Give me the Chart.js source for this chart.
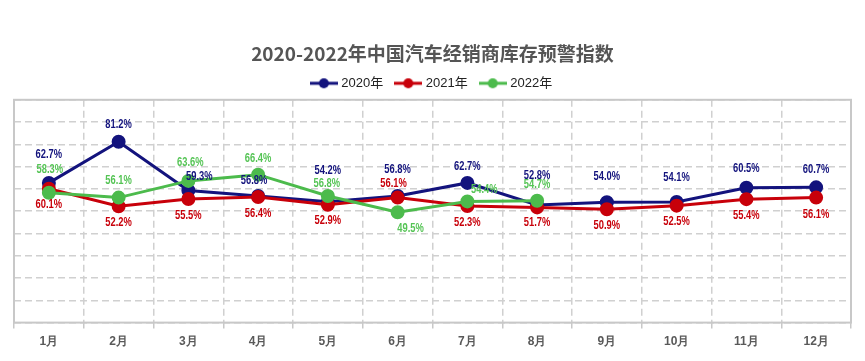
<!DOCTYPE html>
<html><head><meta charset="utf-8">
<script src="https://cdn.jsdelivr.net/npm/chart.js@4.4.0/dist/chart.umd.min.js"></script>
<style>html,body{margin:0;padding:0;background:#fff;}#wrap{width:865px;height:361px;}</style>
</head><body><div id="wrap"><canvas id="c" width="865" height="361"></canvas></div>
<script>
const months = ['1月','2月','3月','4月','5月','6月','7月','8月','9月','10月','11月','12月'];
const seriesNames = ['2020年','2021年','2022年'];
const values2020 = [62.7, 81.2, 59.3, 56.8, 54.2, 56.8, 62.7, 52.8, 54.0, 54.1, 60.5, 60.7];
const values2021 = [60.1, 52.2, 55.5, 56.4, 52.9, 56.1, 52.3, 51.7, 50.9, 52.5, 55.4, 56.1];
const values2022 = [58.3, 56.1, 63.6, 66.4, 56.8, 49.5, 54.4, 54.7];
const yMin = 0, yMax = 100, yStep = 10;

// label placement (pixel offsets from the point, style only)
const labelDx2020 = [0,0,11,-4,0,0,0,0,0,0,0,0];
const labelDy2020 = [-28,-17,-14,-16,-31,-27,-16,-30,-26,-25,-19,-18];
const labelDx2021 = [0,0,0,0,0,-4,0,0,0,0,0,0];
const labelDy2021 = [16,16,16,16,16,-14,16,15,16,16,16,17];
const labelDx2022 = [1,0,2,0,-1,13,17,0];
const labelDy2022 = [-23,-17,-18,-16,-13,16,-12,-16];

const colors = ['#13137d','#c8000a','#4cbb4c'];
const labelColors = ['#13137d','#c8000a','#55c455'];
const narrow = '"Liberation Sans","Arial",sans-serif';

function legendIcon(color){
  const c = document.createElement('canvas');
  c.width = 28; c.height = 12;
  const g = c.getContext('2d');
  g.strokeStyle = color; g.lineWidth = 3;
  g.beginPath(); g.moveTo(0,6); g.lineTo(28,6); g.stroke();
  g.fillStyle = color; g.beginPath(); g.arc(14,6,5,0,Math.PI*2); g.fill();
  return c;
}
const icons = colors.map(legendIcon);

const frame = {
  id:'frame',
  beforeDatasetsDraw(chart){
    const {ctx, chartArea:a} = chart;
    ctx.save();
    ctx.strokeStyle = '#c8c8c8'; ctx.lineWidth = 2; ctx.setLineDash([]);
    ctx.strokeRect(a.left, a.top, a.right-a.left, a.bottom-a.top);
    ctx.restore();
  }
};
function condensedText(ctx, text, x, y, sx){
  ctx.save();
  ctx.translate(x, y);
  ctx.scale(sx, 1);
  ctx.fillText(text, 0, 0);
  ctx.restore();
}
const labelsPlugin = {
  id:'vlabels',
  afterDatasetsDraw(chart){
    const {ctx} = chart;
    const dxs = [labelDx2020,labelDx2021,labelDx2022];
    const dys = [labelDy2020,labelDy2021,labelDy2022];
    ctx.save();
    ctx.font = 'bold 13px ' + narrow;
    ctx.textAlign = 'center'; ctx.textBaseline = 'middle';
    chart.data.datasets.forEach((ds, di) => {
      const meta = chart.getDatasetMeta(di);
      meta.data.forEach((pt, i) => {
        const v = ds.data[i];
        if (v == null) return;
        ctx.fillStyle = labelColors[di];
        condensedText(ctx, v.toFixed(1) + '%', pt.x + dxs[di][i], pt.y + dys[di][i], 0.72);
      });
    });
    ctx.restore();
  }
};

function mkDs(label, data, i, order){
  return {label, data, borderColor: colors[i], backgroundColor: colors[i],
    pointBackgroundColor: colors[i], pointBorderColor: colors[i],
    borderWidth: 3, pointRadius: 5.5, pointHoverRadius: 5.5, tension: 0, order};
}

new Chart(document.getElementById('c'), {
  type:'line',
  data:{labels: months, datasets:[
    mkDs(seriesNames[0], values2020, 0, 3),
    mkDs(seriesNames[1], values2021, 1, 2),
    mkDs(seriesNames[2], values2022, 2, 1)
  ]},
  options:{
    responsive:false, animation:false, devicePixelRatio:1,
    layout:{padding:{left:14, right:14, top:0, bottom:6}},
    plugins:{
      tooltip:{enabled:false},
      title:{display:true, text:'2020-2022年中国汽车经销商库存预警指数',
        color:'#555555', font:{size:19, weight:'bold', family:'"Noto Sans CJK SC",sans-serif'},
        padding:{top:42, bottom:-2}},
      legend:{position:'top',
        labels:{usePointStyle:true, pointStyleWidth:22, padding:14, color:'#222',
          font:{size:13, family:'"Liberation Sans","Noto Sans CJK SC",sans-serif'},
          generateLabels(chart){
            return chart.data.datasets.map((ds,i)=>({text:ds.label, fillStyle:colors[i], strokeStyle:colors[i],
              lineWidth:0, pointStyle:icons[i], hidden:false, datasetIndex:i, fontColor:'#222'}));
          }}}
    },
    scales:{
      x:{offset:true,
        grid:{offset:true, color:'#d0d0d0', lineWidth:1.5, tickLength:6, tickColor:'#c8c8c8', tickWidth:1.5},
        border:{display:false, dash:[7,4]},
        ticks:{color:'#595959', padding:6, font:{size:12, weight:'bold', family:narrow}}},
      y:{min:yMin, max:yMax,
        ticks:{stepSize:yStep, display:false},
        grid:{color:'#d0d0d0', lineWidth:1.5, drawTicks:false},
        border:{display:false, dash:[7,4]}}
    }
  },
  plugins:[frame, labelsPlugin]
});
</script></body></html>
